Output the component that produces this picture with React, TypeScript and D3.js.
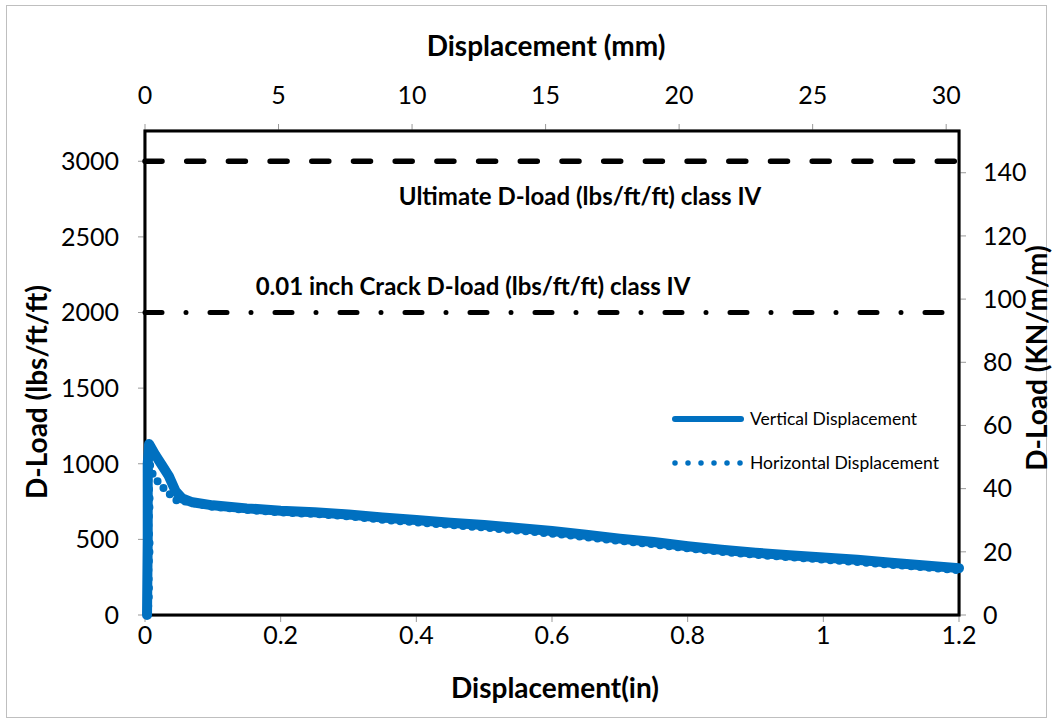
import * as d3 from 'd3';

// Vertical displacement series: [displacement (in), D-load (lbs/ft/ft)]
const verticalX = [0.003, 0.004, 0.004, 0.006, 0.015, 0.025, 0.035, 0.045, 0.055, 0.07, 0.1, 0.15, 0.2, 0.25, 0.3, 0.35, 0.4, 0.45, 0.5, 0.55, 0.6, 0.65, 0.7, 0.75, 0.8, 0.85, 0.9, 0.95, 1.0, 1.05, 1.1, 1.15, 1.2];
const verticalY = [0, 500, 1000, 1130, 1060, 990, 920, 820, 770, 745, 725, 705, 690, 680, 665, 645, 628, 610, 595, 575, 555, 530, 505, 482, 455, 432, 412, 395, 380, 365, 345, 328, 310];

// Horizontal displacement series
const horizontalX = [0.004, 0.006, 0.005, 0.007, 0.005, 0.007, 0.005, 0.007, 0.012, 0.025, 0.045, 0.06, 0.1, 0.15, 0.2, 0.25, 0.3, 0.35, 0.4, 0.45, 0.5, 0.55, 0.6, 0.65, 0.7, 0.75, 0.8, 0.85, 0.9, 0.95, 1.0, 1.05, 1.1, 1.15, 1.2];
const horizontalY = [0, 150, 300, 450, 600, 750, 900, 1000, 920, 850, 760, 750, 715, 695, 678, 668, 652, 630, 612, 595, 578, 558, 538, 515, 490, 467, 440, 418, 398, 382, 366, 350, 332, 315, 295];

const bottomTicks = [0, 0.2, 0.4, 0.6, 0.8, 1, 1.2];
const topTicks = [0, 5, 10, 15, 20, 25, 30];
const leftTicks = [0, 500, 1000, 1500, 2000, 2500, 3000];
const rightTicks = [0, 20, 40, 60, 80, 100, 120, 140];

const ultimateLoad = 3000;
const crackLoad = 2000;

const IN_TO_MM = 25.4;
const LBS_TO_KN = 0.04788;

const W = 1054;
const H = 723;
const m = { left: 145, right: 959, top: 131, bottom: 615 };
const FONT = 'Lato, "Open Sans", sans-serif';
const BLUE = '#0070C0';

export default function App() {
  const x = d3.scaleLinear().domain([0, 1.2]).range([m.left, m.right]);
  const xmm = d3.scaleLinear().domain([0, 1.2 * IN_TO_MM]).range([m.left, m.right]);
  const y = d3.scaleLinear().domain([0, 3200]).range([m.bottom, m.top]);
  const ykn = d3.scaleLinear().domain([0, 3200 * LBS_TO_KN]).range([m.bottom, m.top]);

  const line = d3.line<[number, number]>().x(d => x(d[0])).y(d => y(d[1]));
  const vData = verticalX.map((v, i) => [v, verticalY[i]] as [number, number]);
  const hData = horizontalX.map((v, i) => [v, horizontalY[i]] as [number, number]);

  return (
    <svg width={W} height={H} style={{ position: 'absolute', left: 0, top: 0 }} fontFamily={FONT}>
      <rect x={0} y={0} width={W} height={H} fill="#fff" />
      <rect x={6.5} y={5.5} width={1040} height={712} fill="none" stroke="#bfbfbf" strokeWidth={1} />

      {/* ticks */}
      {bottomTicks.map(t => (
        <g key={'b' + t}>
          <line x1={x(t)} x2={x(t)} y1={m.bottom} y2={m.bottom + 7} stroke="#999" />
          <text x={x(t)} y={m.bottom + 29} textAnchor="middle" fontSize={25}>{t}</text>
        </g>
      ))}
      {topTicks.map(t => (
        <g key={'t' + t}>
          <line x1={xmm(t)} x2={xmm(t)} y1={m.top} y2={m.top - 7} stroke="#999" />
          <text x={xmm(t)} y={m.top - 27} textAnchor="middle" fontSize={25}>{t}</text>
        </g>
      ))}
      {leftTicks.map(t => (
        <g key={'l' + t}>
          <line x1={m.left} x2={m.left - 7} y1={y(t)} y2={y(t)} stroke="#999" />
          <text x={m.left - 26} y={y(t)} dy="0.35em" textAnchor="end" fontSize={25}>{t}</text>
        </g>
      ))}
      {rightTicks.map(t => (
        <g key={'r' + t}>
          <line x1={m.right} x2={m.right + 7} y1={ykn(t)} y2={ykn(t)} stroke="#999" />
          <text x={m.right + 24} y={ykn(t)} dy="0.35em" textAnchor="start" fontSize={25}>{t}</text>
        </g>
      ))}

      {/* plot frame */}
      <rect x={m.left - 1} y={m.top - 1} width={m.right - m.left + 2} height={m.bottom - m.top + 2} fill="none" stroke="#999" strokeWidth={1} />
      <rect x={m.left} y={m.top} width={m.right - m.left} height={m.bottom - m.top} fill="none" stroke="#000" strokeWidth={3} />

      {/* reference lines */}
      <line x1={m.left} x2={m.right - 3} y1={y(ultimateLoad)} y2={y(ultimateLoad)} stroke="#000" strokeWidth={5.5}
        strokeDasharray="17 24.7" strokeLinecap="round" />
      <line x1={m.left} x2={m.right - 3} y1={y(crackLoad)} y2={y(crackLoad)} stroke="#000" strokeWidth={5}
        strokeDasharray="17 24 0 24" strokeLinecap="round" />
      <text x={580} y={y(ultimateLoad) + 35} dy="0.35em" textAnchor="middle" fontSize={24} fontWeight="bold">Ultimate D-load (lbs/ft/ft) class IV</text>
      <text x={473} y={y(crackLoad) - 26} dy="0.35em" textAnchor="middle" fontSize={24} fontWeight="bold">0.01 inch Crack D-load (lbs/ft/ft) class IV</text>

      {/* series */}
      <path d={line(hData) ?? ''} fill="none" stroke={BLUE} strokeWidth={8} strokeDasharray="0 9" strokeLinecap="round" />
      <path d={line(vData) ?? ''} fill="none" stroke={BLUE} strokeWidth={10} strokeLinejoin="round" strokeLinecap="round" />

      {/* legend */}
      <line x1={675} x2={741} y1={419} y2={419} stroke={BLUE} strokeWidth={6} strokeLinecap="round" />
      <text x={750} y={419} dy="0.35em" fontSize={17.5}>Vertical Displacement</text>
      <line x1={675} x2={741} y1={463} y2={463} stroke={BLUE} strokeWidth={5.5} strokeDasharray="0 13" strokeLinecap="round" />
      <text x={750} y={463} dy="0.35em" fontSize={17.5}>Horizontal Displacement</text>

      {/* axis titles */}
      <text x={546} y={46} dy="0.35em" textAnchor="middle" fontSize={28} fontWeight="bold">Displacement (mm)</text>
      <text x={555} y={688} dy="0.35em" textAnchor="middle" fontSize={28} fontWeight="bold">Displacement(in)</text>
      <text transform={`translate(37,392) rotate(-90)`} dy="0.35em" textAnchor="middle" fontSize={28} fontWeight="bold">D-Load (lbs/ft/ft)</text>
      <text transform={`translate(1037,358) rotate(-90)`} dy="0.35em" textAnchor="middle" fontSize={28} fontWeight="bold">D-Load (KN/m/m)</text>
    </svg>
  );
}
